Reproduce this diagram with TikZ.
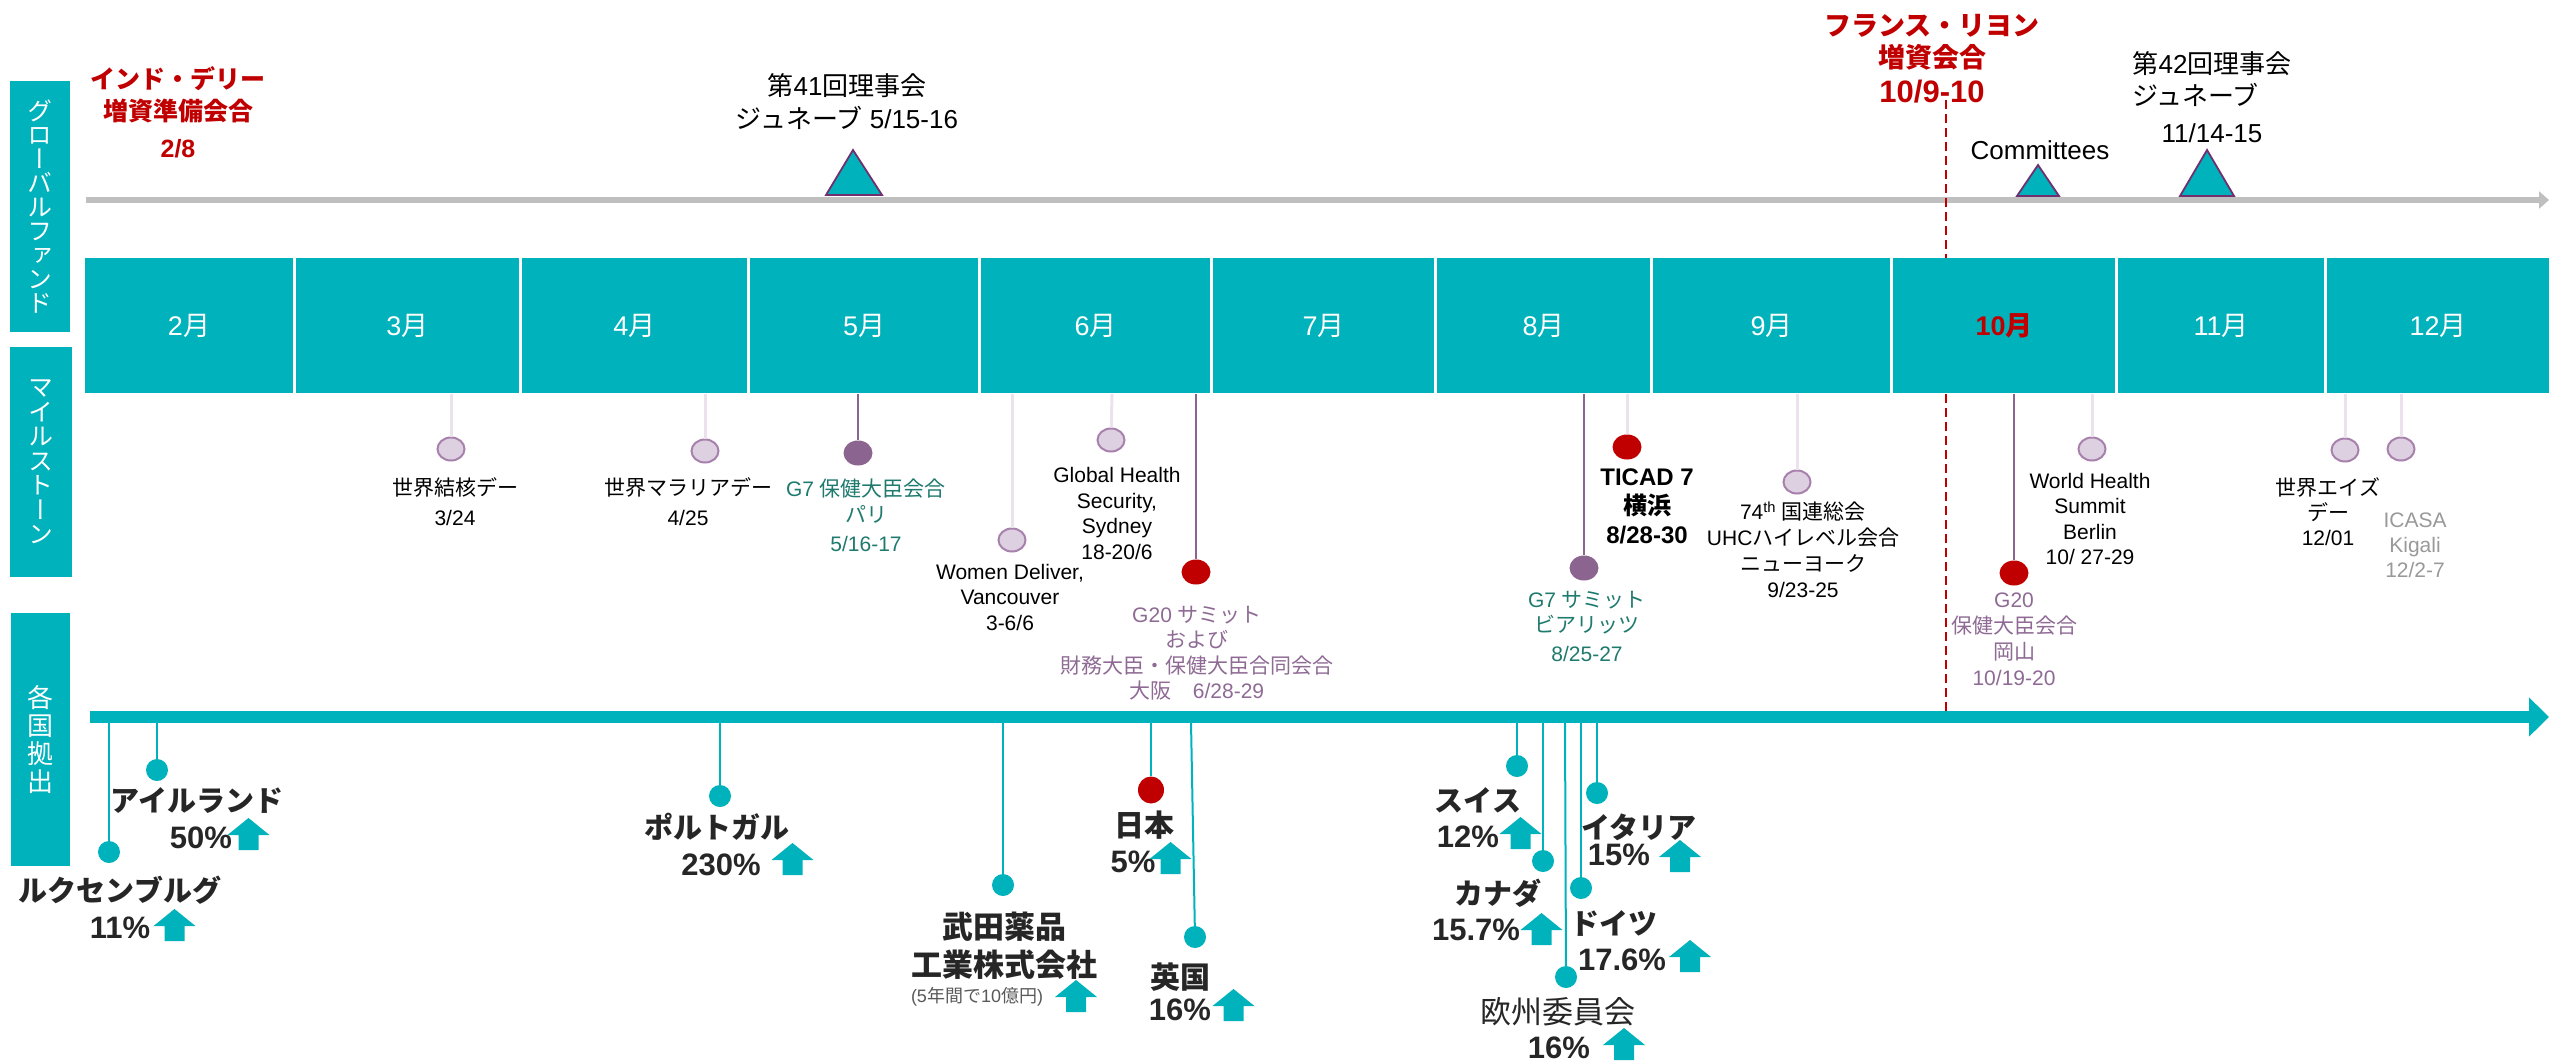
\documentclass[tikz,border=0pt]{standalone}
\usepackage{fontspec}
\setmainfont{Liberation Sans}
\newfontfamily\jpfam{Noto Sans CJK JP}
\newfontfamily\jpvert{Noto Sans CJK JP}[RawFeature=+vert]
\usetikzlibrary{arrows.meta,shapes.geometric}
\XeTeXinterchartokenstate=1
\newXeTeXintercharclass\jpcls
\count255="3000
\loop
  \XeTeXcharclass\count255=\jpcls
  \ifnum\count255<"9FFF \advance\count255 by 1
\repeat
\count255="FF00
\loop
  \XeTeXcharclass\count255=\jpcls
  \ifnum\count255<"FFEF \advance\count255 by 1
\repeat
\XeTeXinterchartoks 0 \jpcls = {\jpfam}
\XeTeXinterchartoks 4095 \jpcls = {\jpfam}
\XeTeXinterchartoks \jpcls 0 = {\rmfamily}
\XeTeXinterchartoks \jpcls 4095 = {\rmfamily}
\newcommand\myfs[2]{\fontsize{#1pt}{#2pt}\selectfont}
\definecolor{tealc}{RGB}{0,178,187}
\definecolor{redc}{RGB}{192,0,0}
\definecolor{purpc}{RGB}{139,100,143}
\definecolor{lfill}{RGB}{221,209,225}
\definecolor{lbord}{RGB}{168,128,172}
\definecolor{lline}{RGB}{236,226,238}
\definecolor{tribd}{RGB}{112,48,112}
\definecolor{g20c}{RGB}{142,106,148}
\definecolor{g7c}{RGB}{31,122,110}
\definecolor{grayarr}{RGB}{191,191,191}
\definecolor{icasac}{RGB}{153,153,153}
\definecolor{darkc}{RGB}{38,38,38}
\definecolor{smallc}{RGB}{89,89,89}
\begin{document}
\begin{tikzpicture}[x=1pt,y=-1pt,
  sidebox/.style={fill=tealc, inner sep=0pt, text=white, align=center},
  monthbox/.style={fill=tealc, inner sep=0pt, text=white, minimum height=135pt, font=\myfs{27}{30}},
  lightdot/.style={ellipse, fill=lfill, draw=lbord, line width=2pt, minimum width=27pt, minimum height=23pt, inner sep=0pt},
  purpdot/.style={ellipse, fill=purpc, minimum width=29pt, minimum height=25pt, inner sep=0pt},
  reddot/.style={ellipse, fill=redc, minimum width=29pt, minimum height=25pt, inner sep=0pt},
  lightln/.style={draw=lline, line width=3pt},
  purpln/.style={draw=purpc, line width=2.5pt},
  ms/.style={align=center, inner sep=0pt, font=\myfs{21}{25.5}},
  toptext/.style={align=center, inner sep=0pt, font=\myfs{26}{33}},
  redtext/.style={align=center, inner sep=0pt, text=redc, font=\bfseries\myfs{25}{32}},
  tealdot/.style={circle, fill=tealc, minimum size=22pt, inner sep=0pt},
  tealln/.style={draw=tealc, line width=2pt},
  cname/.style={inner sep=0pt, font=\bfseries\myfs{29}{32}, text=darkc},
  cpct/.style={inner sep=0pt, font=\bfseries\myfs{31}{34}, text=darkc},
  tri/.style={fill=tealc, draw=tribd, line width=1.8pt, line join=miter},
  uparr/.pic={\fill[tealc] (0,0) -- (21,17) -- (10,17) -- (10,32) -- (-10,32) -- (-10,17) -- (-21,17) -- cycle;}
]
\useasboundingbox (0,0) rectangle (2549,1061);

% ---- side labels
\node[sidebox, minimum width=60pt, minimum height=251pt,
  font={\myfs{25}{24}\jpvert\XeTeXinterchartokenstate=0 }] (gf) at (40,206.5)
  {グ\\ロ\\ー\\バ\\ル\\フ\\ァ\\ン\\ド};
\node[sidebox, minimum width=62pt, minimum height=230pt,
  font={\myfs{25}{24.5}\jpvert\XeTeXinterchartokenstate=0 }] (msb) at (41,462)
  {マ\\イ\\ル\\ス\\ト\\ー\\ン};
\node[sidebox, minimum width=59pt, minimum height=253pt,
  font={\myfs{26}{28}\jpvert\XeTeXinterchartokenstate=0 }] (kkb) at (40.5,739.5)
  {各\\国\\拠\\出};

% ---- global fund row
\coordinate (gaS) at (86,200);
\coordinate (gaE) at (2549,200);
\draw[grayarr, line width=6pt, -{Triangle[length=10pt,width=17pt]}] (gaS) -- (gaE);
\draw[tri] (826,195) -- (853,150) -- (882,195) -- cycle;
\draw[tri] (2017,196) -- (2038,165) -- (2059,196) -- cycle;
\draw[tri] (2180,196) -- (2207,150) -- (2234,196) -- cycle;

\node[redtext] (delhi) at (178,112.5) {インド・デリー\\増資準備会合\\[5pt]2/8};
\node[toptext] (b41) at (847,101.5) {第41回理事会\\ジュネーブ 5/15-16};
\node[redtext, font=\bfseries\myfs{27}{32}] (lyon) at (1932,58.5) {フランス・リヨン\\増資会合\\[3pt]{\myfs{31}{32}10/9-10}};
\node[inner sep=0pt, font=\myfs{26}{30}] (comm) at (2040,150) {Committees};
\node[toptext, font=\myfs{26}{32}] (b42) at (2212,97.5) {第42回理事会\\\makebox[160pt][l]{ジュネーブ}\\[5pt]11/14-15};

\coordinate (lyonA) at (1946,100);
\coordinate (lyonB) at (1946,711);
\draw[redc, line width=2pt, dash pattern=on 9pt off 5pt] (lyonA) -- (lyonB);

% ---- months
\node[monthbox, minimum width=208pt] (m2) at (189,325.5) {2月};
\node[monthbox, minimum width=223pt] (m3) at (407.5,325.5) {3月};
\node[monthbox, minimum width=225pt] (m4) at (634.5,325.5) {4月};
\node[monthbox, minimum width=228pt] (m5) at (864,325.5) {5月};
\node[monthbox, minimum width=229pt] (m6) at (1095.5,325.5) {6月};
\node[monthbox, minimum width=221pt] (m7) at (1323.5,325.5) {7月};
\node[monthbox, minimum width=213pt] (m8) at (1543.5,325.5) {8月};
\node[monthbox, minimum width=237pt] (m9) at (1771.5,325.5) {9月};
\node[monthbox, minimum width=222pt, text=redc, font=\bfseries\myfs{27}{30}] (m10) at (2004,325.5) {10月};
\node[monthbox, minimum width=206pt] (m11) at (2221,325.5) {11月};
\node[monthbox, minimum width=222pt] (m12) at (2438,325.5) {12月};

% ---- milestones
\coordinate (tbT) at (451,394);
\node[lightdot] (tb) at (451,449) {};
\draw[lightln] (tbT) -- (tb);
\node[ms] (tbL) at (455,502) {世界結核デー\\[4.5pt]3/24};

\coordinate (malT) at (705,394);
\node[lightdot] (mal) at (705,451) {};
\draw[lightln] (malT) -- (mal);
\node[ms] (malL) at (688,502) {世界マラリアデー\\[4.5pt]4/25};

\coordinate (g7pT) at (858,394);
\node[purpdot] (g7p) at (858,453) {};
\draw[purpln] (g7pT) -- (g7p);
\node[ms, text=g7c] (g7pL) at (866,515.5) {G7 保健大臣会合\\パリ\\[4pt]5/16-17};

\coordinate (wdT) at (1012,394);
\node[lightdot] (wd) at (1012,540) {};
\draw[lightln] (wdT) -- (wd);
\node[ms] (wdL) at (1010,597) {Women Deliver,\\Vancouver\\3-6/6};

\coordinate (ghsT) at (1112,394);
\node[lightdot] (ghs) at (1111,440) {};
\draw[lightln] (ghsT) -- (ghs);
\node[ms] (ghsL) at (1117,513.5) {Global Health\\Security,\\Sydney\\18-20/6};

\coordinate (g20T) at (1196,394);
\node[reddot] (g20) at (1196,572) {};
\draw[purpln] (g20T) -- (g20);
\node[ms, text=g20c] (g20L) at (1197,653) {G20 サミット\\および\\財務大臣・保健大臣合同会合\\大阪\hspace{21pt}6/28-29};

\coordinate (g7bT) at (1584,394);
\node[purpdot] (g7b) at (1584,568) {};
\draw[purpln] (g7bT) -- (g7b);
\node[ms, text=g7c] (g7bL) at (1587,626.5) {G7 サミット\\ビアリッツ\\[3.5pt]8/25-27};

\coordinate (ticT) at (1627,394);
\node[reddot] (tic) at (1627,447) {};
\draw[lightln] (ticT) -- (tic);
\node[ms, font=\bfseries\myfs{24}{29}] (ticL) at (1647,506) {TICAD 7\\横浜\\8/28-30};

\coordinate (unT) at (1797,394);
\node[lightdot] (un) at (1797,482) {};
\draw[lightln] (unT) -- (un);
\node[ms, font=\myfs{21}{26}] (unL) at (1803,550) {74\textsuperscript{th} 国連総会\\UHCハイレベル会合\\ニューヨーク\\9/23-25};

\coordinate (g20oT) at (2014,394);
\node[reddot] (g20o) at (2014,573) {};
\draw[purpln] (g20oT) -- (g20o);
\node[ms, text=g20c, font=\myfs{21}{26}] (g20oL) at (2014,639) {G20\\保健大臣会合\\岡山\\10/19-20};

\coordinate (whsT) at (2092,394);
\node[lightdot] (whs) at (2092,449) {};
\draw[lightln] (whsT) -- (whs);
\node[ms] (whsL) at (2090,519) {World Health\\Summit\\Berlin\\10/ 27-29};

\coordinate (aidsT) at (2345,394);
\node[lightdot] (aids) at (2345,450) {};
\draw[lightln] (aidsT) -- (aids);
\node[ms, font=\myfs{21}{25}] (aidsL) at (2328,512) {世界エイズ\\デー\\12/01};

\coordinate (icaT) at (2401,394);
\node[lightdot] (ica) at (2401,449) {};
\draw[lightln] (icaT) -- (ica);
\node[ms, text=icasac, font=\myfs{21}{25}] (icaL) at (2415,545) {ICASA\\Kigali\\12/2-7};

% ---- countries
\coordinate (barS) at (90,717);
\coordinate (barE) at (2549,717);
\draw[tealc, line width=12pt, -{Triangle[length=20pt,width=38pt]}] (barS) -- (barE);

\coordinate (luxT) at (109,722);
\node[tealdot] (lux) at (109,852) {};
\draw[tealln] (luxT) -- (lux);
\node[cname] (luxN) at (120,890) {ルクセンブルグ};
\node[cpct] (luxP) at (120,928) {11\%};
\pic at (174.5,909) {uparr};

\coordinate (ireT) at (157,722);
\node[tealdot] (ire) at (157,770) {};
\draw[tealln] (ireT) -- (ire);
\node[cname] (ireN) at (197,800) {アイルランド};
\node[cpct] (ireP) at (201,838) {50\%};
\pic at (248.5,818) {uparr};

\coordinate (porT) at (720,722);
\node[tealdot] (por) at (720,796) {};
\draw[tealln] (porT) -- (por);
\node[cname] (porN) at (717,827) {ポルトガル};
\node[cpct] (porP) at (721,865) {230\%};
\pic at (792.5,843) {uparr};

\coordinate (takT) at (1003,722);
\node[tealdot] (tak) at (1003,885) {};
\draw[tealln] (takT) -- (tak);
\node[cname, align=center, font=\bfseries\myfs{31}{38}] (takN) at (1004,946) {武田薬品\\工業株式会社};
\node[inner sep=0pt, font=\myfs{18}{20}, text=smallc] (takS) at (977,997) {(5年間で10億円)};
\pic at (1076,980) {uparr};

\coordinate (jpT) at (1151,722);
\node[ellipse, fill=redc, minimum width=26pt, minimum height=27pt, inner sep=0pt] (jp) at (1151,790) {};
\draw[tealln] (jpT) -- (jp);
\node[cname, font=\bfseries\myfs{30}{32}] (jpN) at (1144,825) {日本};
\node[cpct] (jpP) at (1133,862) {5\%};
\pic at (1170.5,842) {uparr};

\coordinate (ukT) at (1191,722);
\node[tealdot] (uk) at (1195,937) {};
\draw[tealln] (ukT) -- (uk);
\node[cname, font=\bfseries\myfs{30}{32}] (ukN) at (1180,977) {英国};
\node[cpct] (ukP) at (1180,1010) {16\%};
\pic at (1233.5,989) {uparr};

\coordinate (swiT) at (1517,722);
\node[tealdot] (swi) at (1517,766) {};
\draw[tealln] (swiT) -- (swi);
\node[cname] (swiN) at (1478,800) {スイス};
\node[cpct] (swiP) at (1468,837) {12\%};
\pic at (1520.5,817) {uparr};

\coordinate (canT) at (1543,722);
\node[tealdot] (can) at (1543,861) {};
\draw[tealln] (canT) -- (can);
\node[cname] (canN) at (1498,893) {カナダ};
\node[cpct] (canP) at (1476,930) {15.7\%};
\pic at (1541.5,913) {uparr};

\coordinate (euT) at (1565,722);
\node[tealdot] (eu) at (1566,977) {};
\draw[tealln] (euT) -- (eu);
\node[cname, font=\myfs{31}{34}] (euN) at (1558,1012) {欧州委員会};
\node[cpct] (euP) at (1559,1048) {16\%};
\pic at (1624,1028) {uparr};

\coordinate (gerT) at (1581,722);
\node[tealdot] (ger) at (1581,888) {};
\draw[tealln] (gerT) -- (ger);
\node[cname] (gerN) at (1614,923) {ドイツ};
\node[cpct] (gerP) at (1622,960) {17.6\%};
\pic at (1690,940) {uparr};

\coordinate (itaT) at (1597,722);
\node[tealdot] (ita) at (1597,793) {};
\draw[tealln] (itaT) -- (ita);
\node[cname] (itaN) at (1639,827) {イタリア};
\node[cpct] (itaP) at (1619,855) {15\%};
\pic at (1680,840) {uparr};
\end{tikzpicture}
\end{document}
